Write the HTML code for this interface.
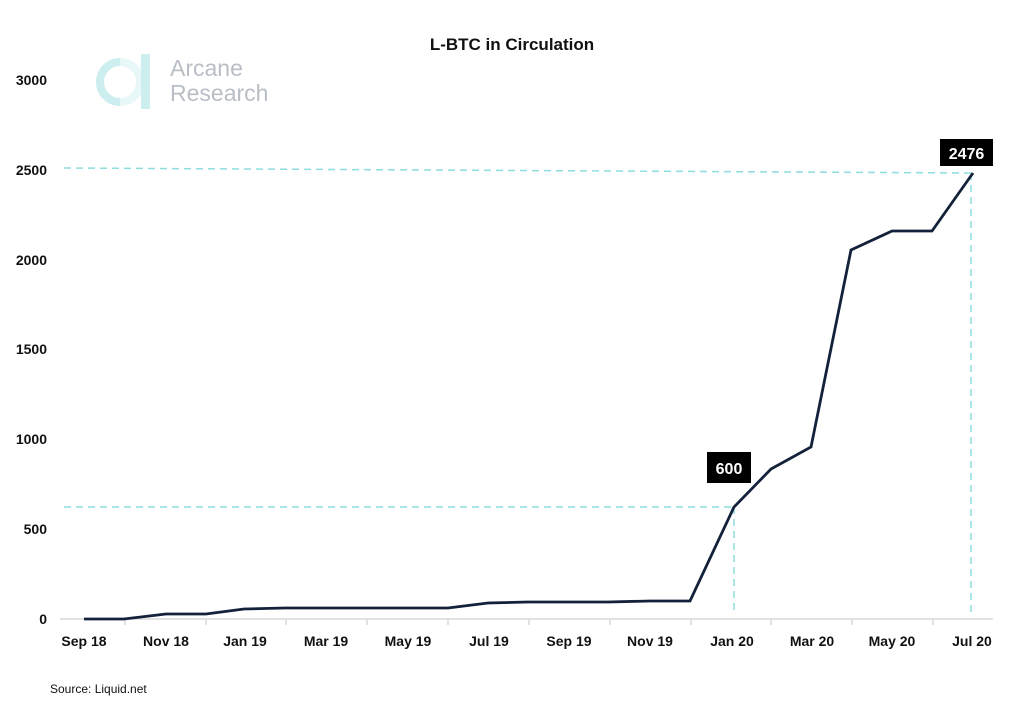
<!DOCTYPE html>
<html><head><meta charset="utf-8"><style>
html,body{margin:0;padding:0;background:#fff;}
svg text{font-family:"Liberation Sans",sans-serif;}
</style></head><body>
<svg width="1024" height="702" viewBox="0 0 1024 702" xmlns="http://www.w3.org/2000/svg">
<rect width="1024" height="702" fill="#fff"/>
<text x="512" y="50" text-anchor="middle" font-size="17" font-weight="bold" fill="#111">L-BTC in Circulation</text>
<!-- logo -->
<g>
<path d="M120 62 A 20 20 0 0 0 120 102" fill="none" stroke="#cdeeee" stroke-width="8"/>
<path d="M120 62 A 20 20 0 0 1 120 102" fill="none" stroke="#e8f8f8" stroke-width="8"/>
<rect x="141" y="54" width="9" height="55" fill="#cdeeee"/>
<text x="170" y="76" font-size="23" fill="#b9bec6">Arcane</text>
<text x="170" y="101" font-size="23" fill="#b9bec6">Research</text>
</g>
<!-- y labels -->
<g font-size="14" font-weight="bold" fill="#111" text-anchor="end">
<text x="47" y="85">3000</text>
<text x="47" y="175">2500</text>
<text x="47" y="265">2000</text>
<text x="47" y="354">1500</text>
<text x="47" y="444">1000</text>
<text x="47" y="534">500</text>
<text x="47" y="624">0</text>
</g>
<!-- axis -->
<line x1="60" y1="619" x2="993" y2="619" stroke="#d8d8d8" stroke-width="1.5"/>
<g stroke="#d8d8d8" stroke-width="1.5">
<line x1="125" y1="619" x2="125" y2="625"/><line x1="206" y1="619" x2="206" y2="625"/>
<line x1="286" y1="619" x2="286" y2="625"/><line x1="367" y1="619" x2="367" y2="625"/>
<line x1="448" y1="619" x2="448" y2="625"/><line x1="529" y1="619" x2="529" y2="625"/>
<line x1="610" y1="619" x2="610" y2="625"/><line x1="691" y1="619" x2="691" y2="625"/>
<line x1="771" y1="619" x2="771" y2="625"/>
<line x1="852" y1="619" x2="852" y2="625"/><line x1="933" y1="619" x2="933" y2="625"/>
</g>
<g font-size="14" font-weight="bold" fill="#111" text-anchor="middle">
<text x="84" y="646">Sep 18</text><text x="166" y="646">Nov 18</text>
<text x="245" y="646">Jan 19</text><text x="326" y="646">Mar 19</text>
<text x="408" y="646">May 19</text><text x="489" y="646">Jul 19</text>
<text x="569" y="646">Sep 19</text><text x="650" y="646">Nov 19</text>
<text x="732" y="646">Jan 20</text><text x="812" y="646">Mar 20</text>
<text x="892" y="646">May 20</text><text x="972" y="646">Jul 20</text>
</g>
<!-- dashed guides -->
<g stroke="#8fdede" stroke-width="1.5" stroke-dasharray="7,5" fill="none">
<line x1="64" y1="507" x2="734" y2="507"/>
<line x1="734" y1="507" x2="734" y2="614"/>
<line x1="64" y1="168" x2="973" y2="173"/>
<line x1="971" y1="173" x2="971" y2="614"/>
</g>
<!-- series -->
<polyline fill="none" stroke="#14213a" stroke-width="2.8" stroke-linejoin="miter" points="84,619 124,619 166,614 206,614 244,609 285,608 448,608 488,603 528,602 608,602 650,601 690,601 734,507 771,469 811,447 851,250 892,231 932,231 973,173"/>
<!-- callouts -->
<rect x="707" y="452" width="44" height="31" fill="#000"/>
<text x="729" y="474" text-anchor="middle" font-size="16" font-weight="bold" fill="#fff">600</text>
<rect x="940" y="139" width="53" height="27" fill="#000"/>
<text x="966.5" y="159" text-anchor="middle" font-size="16" font-weight="bold" fill="#fff">2476</text>
<text x="50" y="693" font-size="12" fill="#111">Source: Liquid.net</text>
</svg>
</body></html>
